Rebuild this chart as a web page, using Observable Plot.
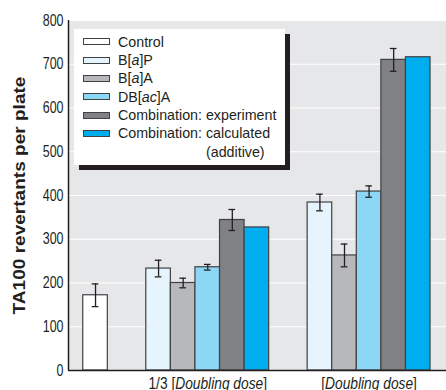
<!DOCTYPE html>
<html>
<head>
<meta charset="utf-8">
<script src="https://cdn.jsdelivr.net/npm/d3@7"></script>
<script src="https://cdn.jsdelivr.net/npm/@observablehq/plot@0.6"></script>
<style>
  body { margin: 0; background: #fff; }
  #wrap { position: relative; width: 446px; height: 390px; overflow: hidden;
    font-family: "Liberation Sans", Arial, sans-serif; color: #231f20; }
  #legend { position: absolute; left: 74px; top: 29px; width: 211px; height: 136px; background: #fff;
    box-shadow: 5px 5px 0 #231f20; font-size: 15px; }
  .row { position: absolute; left: 0; height: 18px; line-height: 18px; white-space: nowrap; }
  .sw { position: absolute; left: 9px; top: 5.5px; width: 25px; height: 5px; border: 1px solid #414042; }
  .lbl { position: absolute; left: 44px; top: 0; transform: scaleX(0.95); transform-origin: 0 50%; }
  .note { transform: scaleX(0.95); transform-origin: 0 50%; }
</style>
</head>
<body>
<div id="wrap"><div id="chart"></div><div id="legend"></div></div>
<script>
// ---- data ----
const seriesNames = ["Control", "B[a]P", "B[a]A", "DB[ac]A", "Combination: experiment", "Combination: calculated"];
const seriesNotes = ["", "", "", "", "", "(additive)"];
const seriesColors = ["#ffffff", "#e6f5fd", "#b7b8bc", "#8dd7f6", "#808184", "#00aeef"];
const groupLabels = ["", "1/3 [Doubling dose]", "[Doubling dose]"];
const groupSeries = [[0], [1, 2, 3, 4, 5], [1, 2, 3, 4, 5]];
const controlValues = [172];
const controlErrors = [26];
const thirdDoseValues = [233, 200, 236, 344, 327];
const thirdDoseErrors = [19, 11, 6.5, 24, null];
const fullDoseValues = [384, 263, 409, 710, 716];
const fullDoseErrors = [19, 26, 13, 26, null];
const groupValues = [controlValues, thirdDoseValues, fullDoseValues];
const groupErrors = [controlErrors, thirdDoseErrors, fullDoseErrors];
const yTicks = [0, 100, 200, 300, 400, 500, 600, 700, 800];

// ---- layout in bar-width units ----
const padLeft = 0.6, gap = 1.565, padRight = 0.65, capHalf = 0.135;
const rows = [];
const centers = [];
let pos = padLeft;
groupSeries.forEach((sIdx, gi) => {
  const start = pos;
  sIdx.forEach((s, k) => {
    rows.push({group: groupLabels[gi], series: seriesNames[s], color: seriesColors[s],
      value: groupValues[gi][k], err: groupErrors[gi][k], x1: pos, x2: pos + 1, xc: pos + 0.5});
    pos += 1;
  });
  centers.push((start + pos) / 2);
  pos += gap;
});
const total = pos - gap + padRight;
const errRows = rows.filter(d => d.err != null);
const labelAt = new Map(centers.map((c, i) => [c, groupLabels[i]]));

const font = '"Liberation Sans", Arial, sans-serif';
const plot = Plot.plot({
  width: 446, height: 390,
  marginLeft: 68, marginTop: 20, marginRight: 0, marginBottom: 20,
  style: {fontFamily: font, fontSize: "16px", color: "#231f20", background: "transparent"},
  x: {domain: [0, total], axis: null},
  y: {domain: [0, 800], axis: null},
  color: {type: "identity"},
  marks: [
    Plot.frame({fill: "#e6e7e8", stroke: null}),
    Plot.gridY(yTicks, {stroke: "#ffffff", strokeOpacity: 1, strokeWidth: 1.2}),
    Plot.rect(rows, {x1: "x1", x2: "x2", y1: 0, y2: "value", fill: "color", stroke: "#414042", strokeWidth: 1.2}),
    Plot.ruleX(errRows, {x: "xc", y1: d => d.value - d.err, y2: d => d.value + d.err, stroke: "#231f20", strokeWidth: 1.3}),
    Plot.ruleY(errRows, {y: d => d.value + d.err, x1: d => d.xc - capHalf, x2: d => d.xc + capHalf, stroke: "#231f20", strokeWidth: 1.3}),
    Plot.ruleY(errRows, {y: d => d.value - d.err, x1: d => d.xc - capHalf, x2: d => d.xc + capHalf, stroke: "#231f20", strokeWidth: 1.3}),
    Plot.ruleX([0], {stroke: "#231f20", strokeWidth: 1.5}),
    Plot.ruleY([0], {stroke: "#231f20", strokeWidth: 1.5}),
    Plot.axisY(yTicks, {tickSize: 0, tickPadding: 5, fontSize: 16, fill: "#231f20",
      label: "TA100 revertants per plate", labelAnchor: "center", labelArrow: "none", labelOffset: 56}),
    Plot.axisX(centers.filter(c => labelAt.get(c)), {tickSize: 0, tickPadding: 7, fontSize: 16, fill: "#231f20",
      tickFormat: c => labelAt.get(c), label: null})
  ]
});
document.getElementById("chart").appendChild(plot);

// italicize bracketed parts in SVG text
function italicizeSvg(textEl) {
  const s = textEl.textContent;
  if (!/\[.+\]/.test(s)) return;
  const parts = s.split(/(\[|\])/);
  textEl.textContent = "";
  let inside = false;
  parts.forEach(p => {
    if (p === "") return;
    const t = document.createElementNS("http://www.w3.org/2000/svg", "tspan");
    t.textContent = p;
    if (p === "[") inside = true;
    else if (p === "]") inside = false;
    else if (inside) t.setAttribute("font-style", "italic");
    textEl.appendChild(t);
  });
}
// emulate the condensed typeface of the original
function condense(el, f) {
  const L = el.getComputedTextLength();
  el.setAttribute("textLength", (L * f).toFixed(1));
  el.setAttribute("lengthAdjust", "spacingAndGlyphs");
}
plot.querySelectorAll('[aria-label="x-axis tick label"] text').forEach(t => { italicizeSvg(t); condense(t, 0.86); });
plot.querySelectorAll('[aria-label="y-axis tick label"] text').forEach(t => condense(t, 0.78));
const yl = plot.querySelector('[aria-label="y-axis label"] text');
if (yl) { yl.setAttribute("font-weight", "bold"); yl.setAttribute("font-size", "17"); condense(yl, 1.12); }

// legend
const legend = document.getElementById("legend");
const rowH = 18.33;
seriesNames.forEach((name, i) => {
  const r = document.createElement("div");
  r.className = "row";
  r.style.top = (3.7 + i * rowH) + "px";
  const sw = document.createElement("div");
  sw.className = "sw";
  sw.style.background = seriesColors[i];
  r.appendChild(sw);
  const l = document.createElement("div");
  l.className = "lbl";
  l.innerHTML = name.replace(/\[([^\]]+)\]/, "[<i>$1</i>]");
  r.appendChild(l);
  legend.appendChild(r);
  if (seriesNotes[i]) {
    const n = document.createElement("div");
    n.className = "row note";
    n.style.top = (3.7 + (i + 1) * rowH) + "px";
    n.style.left = "132px";
    n.textContent = seriesNotes[i];
    legend.appendChild(n);
  }
});
</script>
</body>
</html>
